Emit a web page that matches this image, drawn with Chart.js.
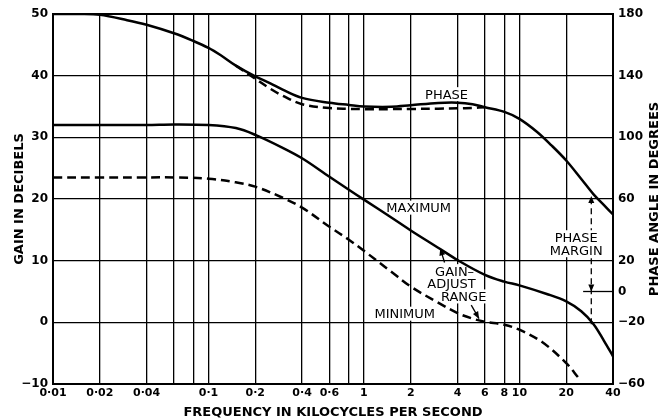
<!DOCTYPE html>
<html>
<head>
<meta charset="utf-8">
<script src="https://cdn.jsdelivr.net/npm/chart.js@4.4.1/dist/chart.umd.min.js"></script>
<style>
html, body { margin: 0; padding: 0; background: #fff; }
</style>
</head>
<body>
<canvas id="chart" width="670" height="420"></canvas>
<script>
// frequencies in kc/s, gain in dB, phase in degrees
const phaseFreq  = [0.01, 0.015, 0.02, 0.03, 0.04, 0.06, 0.08, 0.1, 0.12, 0.15, 0.2, 0.25, 0.3, 0.4, 0.6, 0.8, 1, 1.5, 2, 3, 4, 5, 6, 8, 10, 13, 16, 20, 25, 30, 35, 40];
const phaseSolid = [180, 180, 179.5, 176, 173, 167.5, 162.5, 158, 153.2, 146.5, 139.5, 135, 131, 125.6, 122.4, 121, 120, 119.8, 120.8, 122.3, 122.5, 121.5, 119.5, 116.5, 112, 103.5, 95, 85, 73, 63, 56, 50];

const phaseDashFreq = [0.15, 0.2, 0.25, 0.3, 0.4, 0.6, 0.8, 1, 1.5, 2, 3, 4, 5, 6];
const phaseDashed   = [146.5, 138, 131.5, 127, 121.5, 119, 118.5, 118.3, 118.3, 118.4, 118.6, 118.8, 119.1, 119.5];

const maxFreq = [0.01, 0.02, 0.04, 0.06, 0.1, 0.15, 0.2, 0.3, 0.4, 0.6, 0.8, 1, 1.5, 2, 3, 4, 6, 8, 10, 15, 20, 25, 30, 35, 40];
const maxGain = [32, 32, 32, 32.1, 32, 31.5, 30.4, 28.3, 26.6, 23.6, 21.5, 19.9, 17.0, 14.9, 12.1, 10.1, 7.7, 6.6, 6.0, 4.6, 3.4, 1.8, -0.3, -3, -5.5];

const minFreq = [0.01, 0.02, 0.04, 0.06, 0.1, 0.15, 0.2, 0.3, 0.4, 0.6, 0.8, 1, 1.5, 2, 3, 4, 5, 6, 8, 10, 14, 20, 24];
const minGain = [23.5, 23.5, 23.5, 23.5, 23.3, 22.7, 22.0, 20.2, 18.6, 15.5, 13.4, 11.6, 8.2, 5.8, 3.2, 1.5, 0.6, 0.1, -0.4, -1.2, -3.2, -6.6, -9.0];

const xTickVals   = [0.01, 0.02, 0.04, 0.06, 0.08, 0.1, 0.2, 0.4, 0.6, 0.8, 1, 2, 4, 6, 8, 10, 20, 40];
const xTickLabels = ['0·01', '0·02', '0·04', '', '', '0·1', '0·2', '0·4', '0·6', '', '1', '2', '4', '6', '8', '10', '20', '40'];
const gainTicks  = [-10, 0, 10, 20, 30, 40, 50];
const phaseTicks = [-60, -20, 0, 20, 60, 100, 140, 180];

// labels on the plot: frequency, gain
const notes = [
  { text: 'PHASE',   f: 3.4,  g: 37.0 },
  { text: 'MAXIMUM', f: 2.25, g: 18.6 },
  { text: 'MINIMUM', f: 1.83, g: 1.4 },
  { text: 'GAIN–',   f: 3.83, g: 8.3 },
  { text: 'ADJUST',  f: 3.66, g: 6.3 },
  { text: 'RANGE',   f: 4.38, g: 4.2 },
  { text: 'PHASE',   f: 23.2, g: 13.8 },
  { text: 'MARGIN',  f: 23.2, g: 11.7 }
];
const gainArrows = [
  { from: [3.3, 9.7], to: [3.1, 12.0] },
  { from: [4.9, 2.8], to: [5.5, 0.6] }
];
const marginFreq = 29, marginPhase = 62, crossoverGain = -0.3;

const pts = (xs, ys) => xs.map((v, i) => ({ x: v, y: ys[i] }));
const minus = s => String(s).replace('-', '−');
const FONT = '"DejaVu Sans", sans-serif';

function arrowHead(ctx, x0, y0, x1, y1) {
  const a = Math.atan2(y1 - y0, x1 - x0), L = 7, W = 3;
  ctx.beginPath();
  ctx.moveTo(x1, y1);
  ctx.lineTo(x1 - L * Math.cos(a) + W * Math.sin(a), y1 - L * Math.sin(a) - W * Math.cos(a));
  ctx.lineTo(x1 - L * Math.cos(a) - W * Math.sin(a), y1 - L * Math.sin(a) + W * Math.cos(a));
  ctx.closePath();
  ctx.fill();
}

const notePlugin = {
  id: 'notes',
  beforeDatasetsDraw(chart) {
    const { ctx, scales: { x, y, y2 } } = chart;
    ctx.save();
    // phase margin line, under the text
    const mx = x.getPixelForValue(marginFreq);
    const yTop = y2.getPixelForValue(marginPhase), yZero = y2.getPixelForValue(0);
    const yBot = y.getPixelForValue(crossoverGain);
    ctx.strokeStyle = '#000';
    ctx.fillStyle = '#000';
    ctx.lineWidth = 1.3;
    ctx.setLineDash([6, 4]);
    ctx.beginPath(); ctx.moveTo(mx, yBot); ctx.lineTo(mx, yTop + 4); ctx.stroke();
    ctx.setLineDash([]);
    arrowHead(ctx, mx, yTop + 20, mx, yTop);
    arrowHead(ctx, mx, yZero - 20, mx, yZero);
    ctx.beginPath();
    ctx.moveTo(x.getPixelForValue(25.7), yZero);
    ctx.lineTo(x.right, yZero);
    ctx.stroke();

    ctx.font = '13px ' + FONT;
    ctx.textAlign = 'center';
    ctx.textBaseline = 'middle';
    notes.forEach(n => {
      const px = x.getPixelForValue(n.f), py = y.getPixelForValue(n.g);
      const w = ctx.measureText(n.text).width;
      ctx.fillStyle = '#fff';
      ctx.fillRect(px - w / 2 - 3, py - 7, w + 6, 14);
    });
    ctx.fillStyle = '#000';
    notes.forEach(n => ctx.fillText(n.text, x.getPixelForValue(n.f), y.getPixelForValue(n.g) + 1));
    ctx.restore();
  },
  afterDatasetsDraw(chart) {
    const { ctx, scales: { x, y } } = chart;
    ctx.save();
    ctx.strokeStyle = '#000';
    ctx.fillStyle = '#000';
    ctx.lineWidth = 1.3;
    gainArrows.forEach(a => {
      const x0 = x.getPixelForValue(a.from[0]), y0 = y.getPixelForValue(a.from[1]);
      const x1 = x.getPixelForValue(a.to[0]), y1 = y.getPixelForValue(a.to[1]);
      ctx.beginPath(); ctx.moveTo(x0, y0); ctx.lineTo(x1, y1); ctx.stroke();
      arrowHead(ctx, x0, y0, x1, y1);
    });
    ctx.restore();
  },
  afterDraw(chart) {
    const { ctx, chartArea } = chart;
    ctx.save();
    ctx.font = 'bold 13px ' + FONT;
    ctx.fillStyle = '#000';
    ctx.textAlign = 'center';
    ctx.textBaseline = 'middle';
    ctx.translate(655, (chartArea.top + chartArea.bottom) / 2);
    ctx.rotate(-Math.PI / 2);
    ctx.fillText('PHASE ANGLE IN DEGREES', 0, 0);
    ctx.restore();
  }
};

const lineStyle = { borderColor: '#000', borderWidth: 2.5, pointRadius: 0, fill: false, tension: 0.35 };

new Chart(document.getElementById('chart'), {
  type: 'line',
  data: {
    datasets: [
      Object.assign({ label: 'Phase', data: pts(phaseFreq, phaseSolid), yAxisID: 'y2' }, lineStyle),
      Object.assign({ label: 'Phase (dashed)', data: pts(phaseDashFreq, phaseDashed), yAxisID: 'y2', borderDash: [9, 5] }, lineStyle),
      Object.assign({ label: 'Maximum', data: pts(maxFreq, maxGain), yAxisID: 'y' }, lineStyle),
      Object.assign({ label: 'Minimum', data: pts(minFreq, minGain), yAxisID: 'y', borderDash: [9, 5] }, lineStyle)
    ]
  },
  options: {
    responsive: false,
    animation: false,
    layout: { padding: { top: 14, left: 0, right: 0, bottom: 0 } },
    plugins: { legend: { display: false }, tooltip: { enabled: false } },
    scales: {
      x: {
        type: 'logarithmic',
        min: 0.01, max: 40,
        afterBuildTicks: s => { s.ticks = xTickVals.map(v => ({ value: v })); },
        afterFit: s => { s.height = 36; },
        ticks: {
          autoSkip: false, maxRotation: 0, padding: 3, color: '#000',
          font: { family: FONT, size: 11, weight: 'bold' },
          callback: v => { const i = xTickVals.indexOf(v); return i < 0 ? '' : xTickLabels[i]; }
        },
        grid: {
          color: '#000', drawTicks: false,
          lineWidth: c => (c.tick && (c.tick.value === 0.01 || c.tick.value === 40)) ? 2 : 1.3
        },
        border: { color: '#000', width: 2 },
        title: {
          display: true, text: 'FREQUENCY IN KILOCYCLES PER SECOND', color: '#000',
          font: { family: FONT, size: 13, weight: 'bold' }, padding: { top: 2, bottom: 0 }
        }
      },
      y: {
        position: 'left',
        min: -10, max: 50,
        afterBuildTicks: s => { s.ticks = gainTicks.map(v => ({ value: v })); },
        afterFit: s => { s.width = 53; },
        ticks: { padding: 5, color: '#000', font: { family: FONT, size: 12, weight: 'bold' }, callback: v => minus(v) },
        grid: {
          color: '#000', drawTicks: false,
          lineWidth: c => (c.tick && (c.tick.value === 50 || c.tick.value === -10)) ? 2 : 1.3
        },
        border: { color: '#000', width: 2 },
        title: {
          display: true, text: 'GAIN IN DECIBELS', color: '#000',
          font: { family: FONT, size: 13, weight: 'bold' }, padding: { top: 12, bottom: 0 }
        }
      },
      y2: {
        position: 'right',
        min: -60, max: 180,
        afterBuildTicks: s => { s.ticks = phaseTicks.map(v => ({ value: v })); },
        afterFit: s => { s.width = 57; },
        ticks: { padding: 5, color: '#000', font: { family: FONT, size: 12, weight: 'bold' }, callback: v => minus(v) },
        grid: { drawOnChartArea: false, drawTicks: false, color: '#000' },
        border: { color: '#000', width: 2 }
      }
    }
  },
  plugins: [notePlugin]
});
</script>
</body>
</html>
